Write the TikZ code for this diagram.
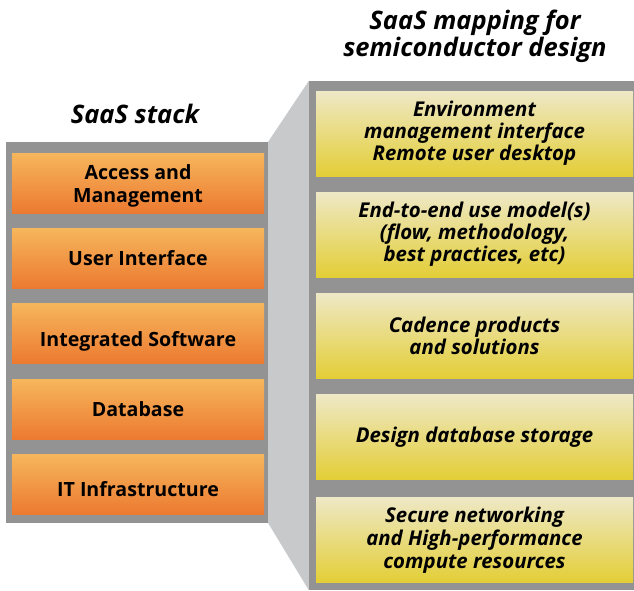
\documentclass[tikz,border=0pt]{standalone}
\usepackage{fontspec}
\setmainfont{Open Sans}
\definecolor{panelgray}{HTML}{939394}
\definecolor{sidegray}{HTML}{C8C9CB}
\definecolor{orgtop}{HTML}{F6B65C}
\definecolor{orgbot}{HTML}{EC7A31}
\definecolor{yeltop}{HTML}{EEE8C6}
\definecolor{yelbot}{HTML}{E3CE36}
\newcommand{\lowerby}[2]{\raisebox{0pt}[\dimexpr\height+#1\relax]{#2}}
\tikzset{
  panel/.style={fill=panelgray, draw=none, inner sep=0pt, anchor=center},
  stackbox/.style={top color=orgtop, bottom color=orgbot, draw=none, minimum width=252pt, minimum height=60pt, inner sep=0pt, align=center, font=\fontsize{19.6}{23}\selectfont\bfseries},
  mapbox/.style={top color=yeltop, bottom color=yelbot, draw=none, minimum width=317pt, minimum height=85pt, inner sep=0pt, align=center, font=\fontsize{20.4}{22}\selectfont\bfseries\itshape},
  title/.style={align=center, inner sep=0pt, font=\fontsize{25.5}{26.5}\selectfont\bfseries\itshape}
}
\begin{document}
\begin{tikzpicture}[x=1pt,y=-1pt]
\useasboundingbox (0,0) rectangle (634,590);
\node[panel, minimum width=262pt, minimum height=381pt] (lp) at (137,332.5) {};
\node[panel, minimum width=325pt, minimum height=509pt] (rp) at (471.5,335.5) {};
\fill[sidegray] (lp.north east) -- (rp.north west) -- (rp.south west) -- (lp.south east) -- cycle;
\node[title] (t1) at (135,114) {SaaS stack};
\node[title] (t2) at (475,36.5) {SaaS mapping for\\semiconductor design};
\node[stackbox] (s1) at (138,183) {\lowerby{5pt}{Access and}\\Management};
\node[stackbox] (s2) at (138,258) {User Interface};
\node[stackbox] (s3) at (138,333) {\lowerby{16pt}{Integrated Software}};
\node[stackbox] (s4) at (138,409) {Database};
\node[stackbox] (s5) at (138,484) {\lowerby{10pt}{IT Infrastructure}};
\node[mapbox] (m1) at (474.5,133.5) {Environment\\management interface\\Remote user desktop};
\node[mapbox] (m2) at (474.5,234.5) {End-to-end use model(s)\\(flow, methodology,\\best practices, etc)};
\node[mapbox] (m3) at (474.5,335.5) {Cadence products\\and solutions};
\node[mapbox] (m4) at (474.5,437) {Design database storage};
\node[mapbox, font=\fontsize{20.4}{23}\selectfont\bfseries\itshape] (m5) at (474.5,540) {Secure networking\\and High-performance\\compute resources};
\end{tikzpicture}
\end{document}
